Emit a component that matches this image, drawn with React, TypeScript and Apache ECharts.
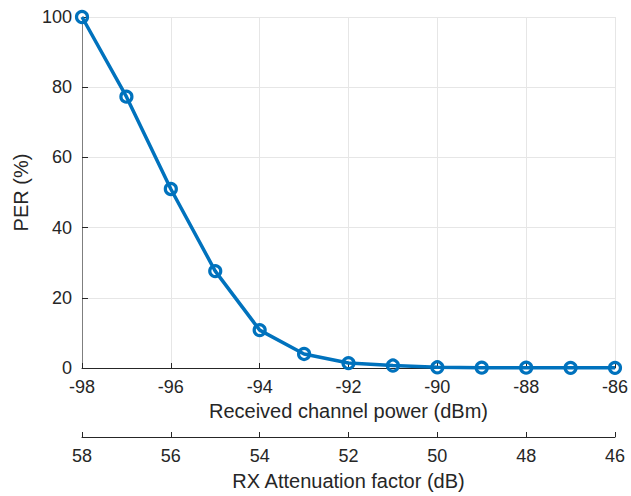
import React, { useEffect, useRef } from "react";
import * as echarts from "echarts";

const powerDbm = [-98, -97, -96, -95, -94, -93, -92, -91, -90, -89, -88, -87, -86];
const perPercent = [100, 77.3, 51, 27.6, 10.8, 4, 1.4, 0.7, 0.2, 0.1, 0.1, 0.05, 0.05];
const yTitle = "PER (%)";
const xTitle = "Received channel power (dBm)";
const x2Title = "RX Attenuation factor (dB)";

const FONT = "'Liberation Sans', Arial, Helvetica, sans-serif";
const TXT = "#262626";
const TICK_FS = 18;
const TITLE_FS = 20;

export default function App() {
  const ref = useRef<HTMLDivElement>(null);
  useEffect(() => {
    if (!ref.current) return;
    const chart = echarts.init(ref.current, undefined, { renderer: "svg" });
    chart.setOption({
      animation: false,
      backgroundColor: "#ffffff",
      textStyle: { fontFamily: FONT },
      grid: { left: 82, right: 9, top: 17, bottom: 126, containLabel: false },
      xAxis: [
        {
          type: "value",
          position: "bottom",
          min: -98,
          max: -86,
          interval: 2,
          name: xTitle,
          nameLocation: "middle",
          nameGap: 33,
          nameTextStyle: { fontFamily: FONT, fontSize: TITLE_FS, color: TXT },
          axisLine: { show: true, onZero: false, lineStyle: { color: TXT, width: 1 } },
          axisTick: { show: true, inside: true, length: 5, lineStyle: { color: TXT } },
          axisLabel: { fontFamily: FONT, fontSize: TICK_FS, color: TXT, margin: 10 },
          splitLine: { show: true, lineStyle: { color: "#e6e6e6", width: 1 } },
        },
        {
          type: "value",
          position: "bottom",
          offset: 69,
          min: 46,
          max: 58,
          interval: 2,
          inverse: true,
          name: x2Title,
          nameLocation: "middle",
          nameGap: 34,
          nameTextStyle: { fontFamily: FONT, fontSize: TITLE_FS, color: TXT },
          axisLine: { show: true, onZero: false, lineStyle: { color: TXT, width: 1 } },
          axisTick: { show: true, inside: true, length: 5, lineStyle: { color: TXT } },
          axisLabel: { fontFamily: FONT, fontSize: TICK_FS, color: TXT, margin: 10 },
          splitLine: { show: false },
        },
      ],
      yAxis: {
        type: "value",
        min: 0,
        max: 100,
        interval: 20,
        name: yTitle,
        nameLocation: "middle",
        nameGap: 48,
        nameRotate: 90,
        nameTextStyle: { fontFamily: FONT, fontSize: TITLE_FS, color: TXT },
        axisLine: { show: true, lineStyle: { color: "#7f7f7f", width: 1 } },
        axisTick: { show: true, inside: true, length: 6, lineStyle: { color: TXT } },
        axisLabel: { fontFamily: FONT, fontSize: TICK_FS, color: TXT, margin: 10 },
        splitLine: { show: true, lineStyle: { color: "#e6e6e6", width: 1 } },
      },
      series: [
        {
          type: "line",
          xAxisIndex: 0,
          data: powerDbm.map((x, i) => [x, perPercent[i]]),
          clip: false,
          symbol: "circle",
          symbolSize: 11,
          lineStyle: { color: "#0072BD", width: 3.5 },
          itemStyle: { color: "rgba(0,0,0,0)", borderColor: "#0072BD", borderWidth: 3.2 },
          z: 5,
        },
      ],
    });
    return () => chart.dispose();
  }, []);
  return <div ref={ref} style={{ width: 631, height: 496, position: "absolute", left: 0, top: 0 }} />;
}
